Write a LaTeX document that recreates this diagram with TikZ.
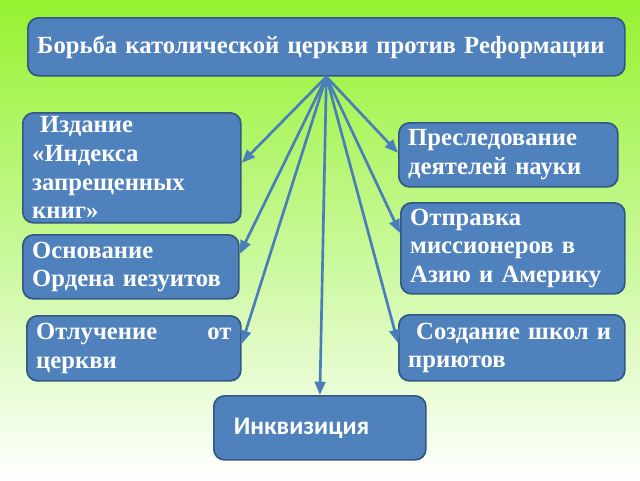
\documentclass[tikz,border=0pt]{standalone}
\usepackage{fontspec}
\setmainfont{Liberation Serif}[BoldFont={Liberation Serif Bold}]
\newfontfamily\calibfont{Carlito}[BoldFont={Carlito Bold}]
\usetikzlibrary{arrows.meta}
\definecolor{boxfill}{RGB}{79,129,189}
\definecolor{boxline}{RGB}{52,88,132}
\definecolor{arrcol}{RGB}{74,126,187}
\definecolor{bgtop}{RGB}{150,242,48}
\definecolor{bgmid}{RGB}{198,248,148}
\begin{document}
\begin{tikzpicture}[x=0.75pt,y=-0.75pt,
 box/.style={draw=boxline, line width=1.3pt, fill=boxfill, rounded corners=8pt, text=white,
   font=\bfseries\fontsize{18.5}{21.5}\selectfont, align=left, inner xsep=7pt, inner ysep=1pt, anchor=north west},
 arr/.style={draw=arrcol, line width=2pt, -{Triangle[length=10pt,width=8pt]}}]
\shade[top color=bgtop, bottom color=white, middle color=bgmid] (0,0) rectangle (640,480);
\useasboundingbox (0,0) rectangle (640,480);
\node[box, text width=433.75pt, minimum height=43.5pt] (top) at (27,17) {Борьба католической церкви против Реформации};
\node[box, text width=149.5pt, minimum height=82.5pt, inner ysep=0pt] (L1) at (22,112) {\hspace{6pt}Издание\\«Индекса\\запрещенных\\книг»};
\node[box, text width=148pt, minimum height=48pt] (L2) at (22,234) {Основание\\Ордена иезуитов};
\node[box, text width=146.5pt, minimum height=48.75pt] (L3) at (26,315) {Отлучение\hfill от\\церкви};
\node[box, text width=145pt, minimum height=48pt, font=\calibfont\bfseries\fontsize{19}{22}\selectfont] (B) at (213,395) {\hspace{8pt}Инквизиция};
\node[box, text width=150.25pt, minimum height=48pt] (R1) at (398,122) {Преследование\\деятелей науки};
\node[box, text width=154pt, minimum height=68.25pt] (R2) at (400,202) {Отправка\\миссионеров в\\Азию и Америку};
\node[box, text width=155.5pt, minimum height=49.5pt] (R3) at (398,314) {\hspace{6pt}Создание школ и\\приютов};
\draw[arr] (top.south) -- ([yshift=3.75pt]L1.east);
\draw[arr] (top.south) -- ([yshift=9.75pt]L2.east);
\draw[arr] (top.south) -- ([yshift=3.4pt]L3.east);
\draw[arr] (top.south) -- (B.north);
\draw[arr] (top.south) -- ([yshift=1.5pt]R1.west);
\draw[arr] (top.south) -- ([yshift=11.6pt]R2.west);
\draw[arr] (top.south) -- ([yshift=3.75pt]R3.west);
\end{tikzpicture}
\end{document}
